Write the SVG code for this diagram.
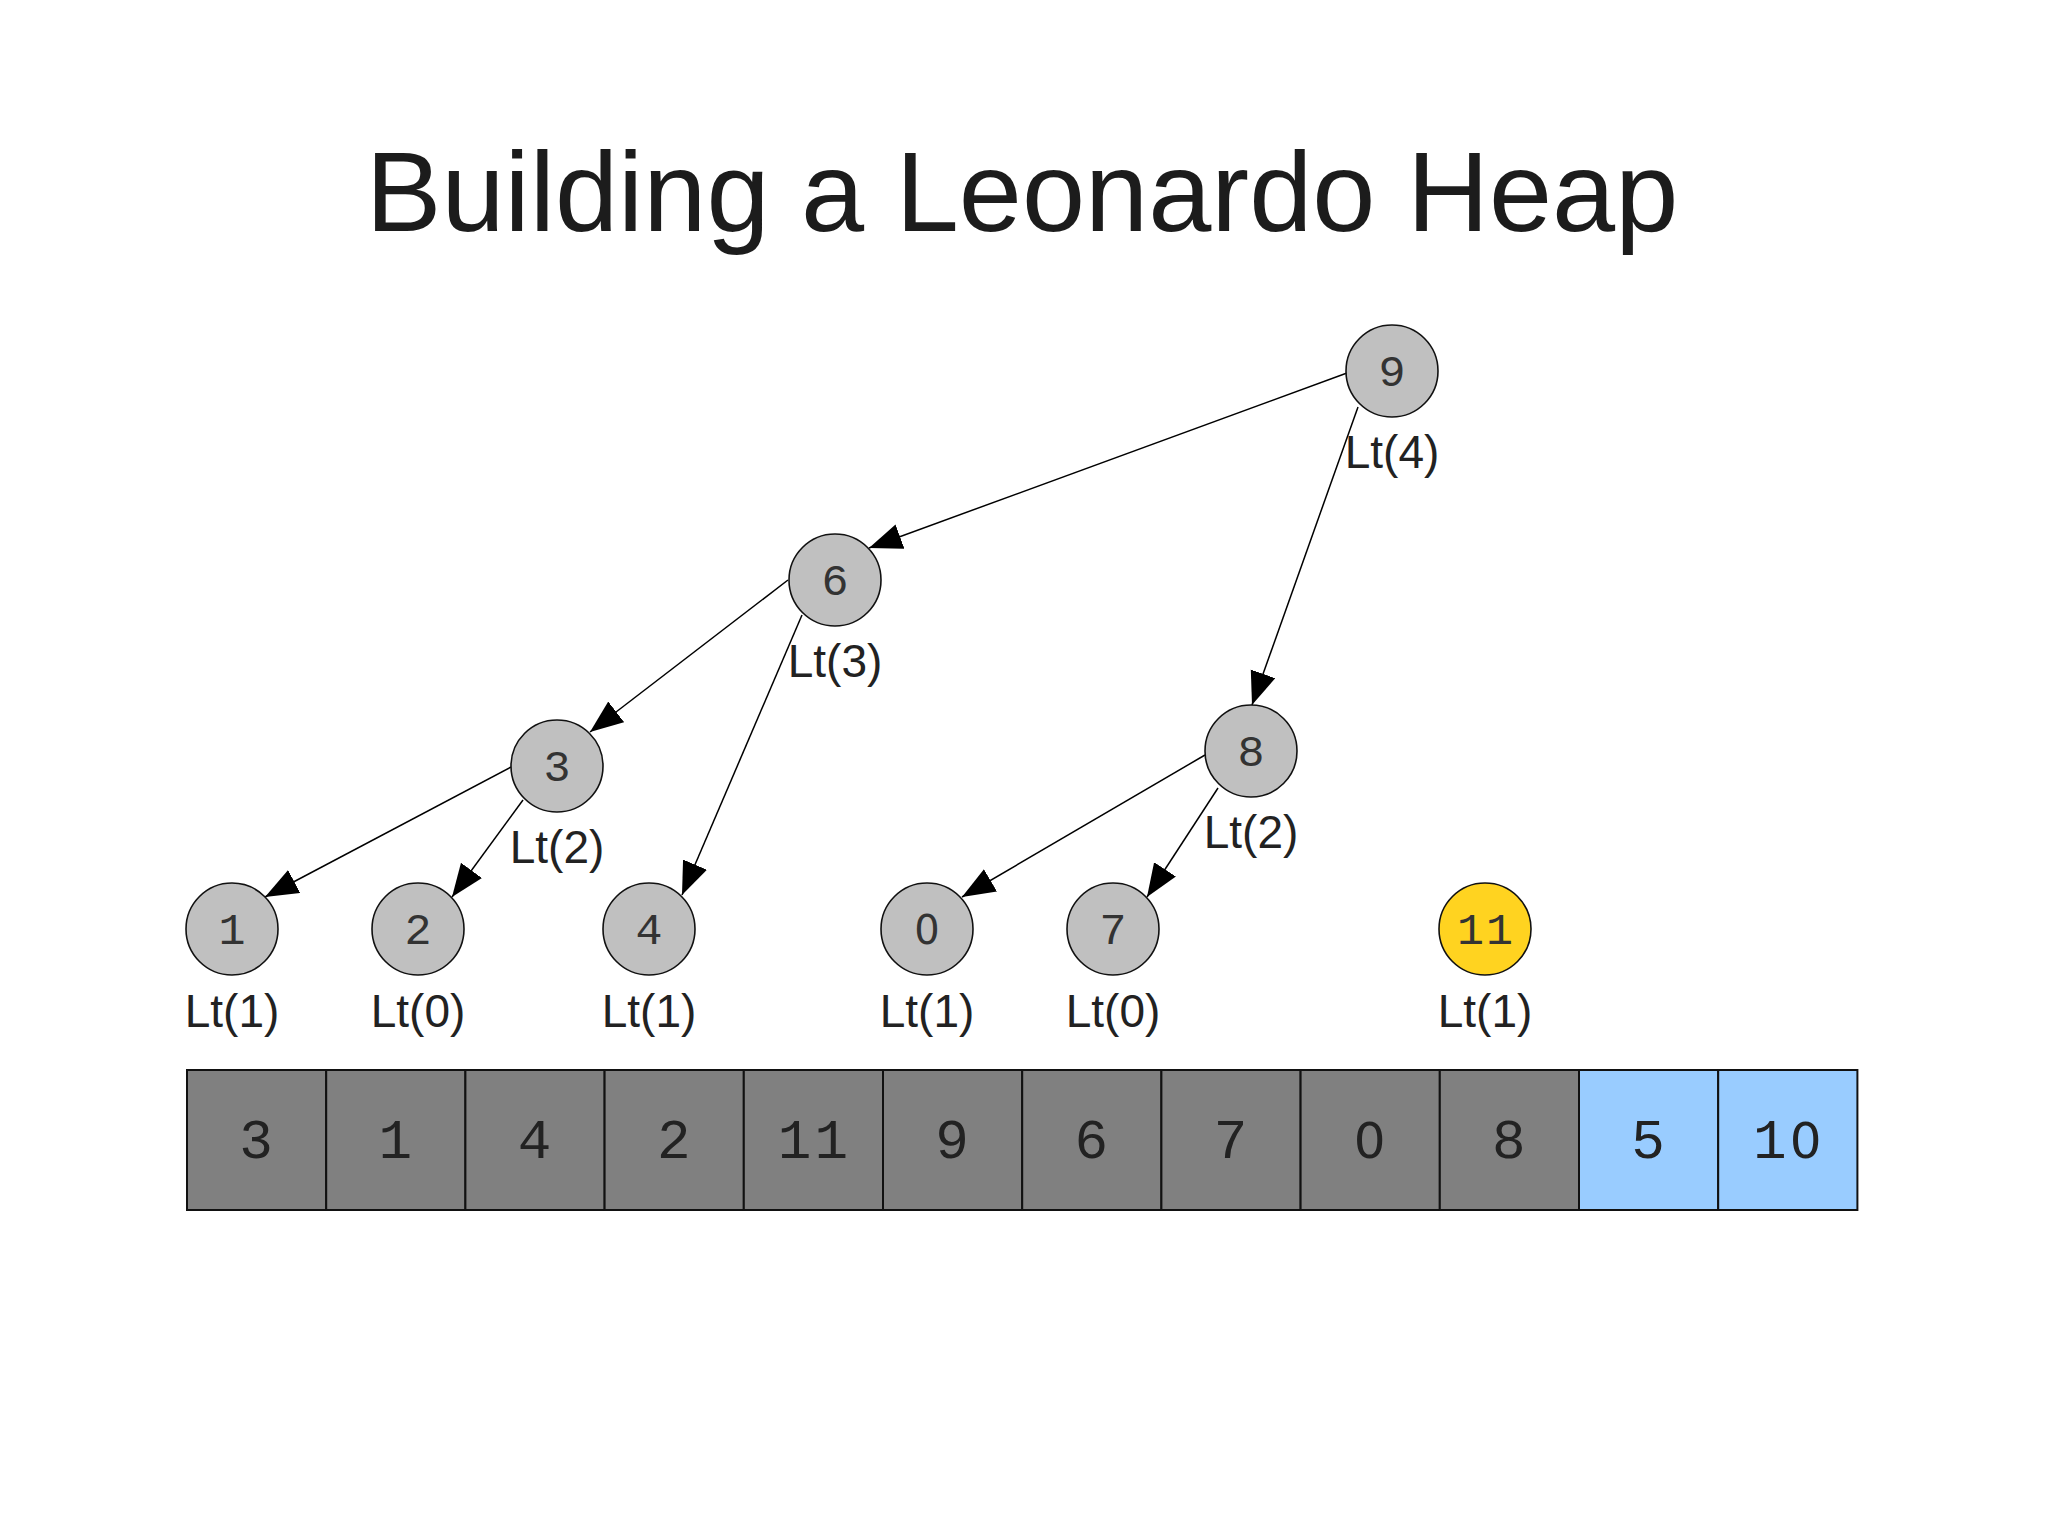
<svg xmlns="http://www.w3.org/2000/svg" width="2048" height="1536" viewBox="0 0 2048 1536">
<style>
.title{font-family:"Liberation Sans",Arial,sans-serif;font-size:113.5px;fill:#1c1c1c;text-anchor:middle}
.node circle{fill:#c0c0c0;stroke:#111;stroke-width:1.6}
.node.new circle{fill:#ffd320}
.num{font-family:"Liberation Mono","DejaVu Sans Mono",monospace;font-size:45px;fill:#333;text-anchor:middle;letter-spacing:2px}
.lt{font-family:"Liberation Sans",Arial,sans-serif;font-size:46px;fill:#222;text-anchor:middle}
.cell{fill:#808080;stroke:#111;stroke-width:2}
.cell.b{fill:#99ccff}
.cnum{font-family:"Liberation Mono","DejaVu Sans Mono",monospace;font-size:56px;fill:#222;text-anchor:middle;letter-spacing:3px}
.z{font-family:"DejaVu Sans",sans-serif;font-weight:normal}
.num .z{font-size:40px}
.cnum .z{font-size:50px}
.edge{stroke:#000;stroke-width:1.5;fill:none;marker-end:url(#arr)}
</style>
<defs>
<marker id="arr" markerUnits="userSpaceOnUse" markerWidth="36" markerHeight="28" refX="33" refY="13" orient="auto">
<path d="M0,0 L33,13 L0,26 Z" fill="#000"/>
</marker>
</defs>
<rect width="2048" height="1536" fill="#fff"/>
<text class="title" x="1022" y="231">Building a Leonardo Heap</text>

<g id="connectors">
<line class="edge" x1="1347" y1="373" x2="869" y2="548"/>
<line class="edge" x1="1358" y1="407" x2="1252" y2="705"/>
<line class="edge" x1="788" y1="580" x2="590" y2="732"/>
<line class="edge" x1="802" y1="615" x2="682" y2="895"/>
<line class="edge" x1="511" y1="767" x2="265" y2="897"/>
<line class="edge" x1="523" y1="800" x2="452" y2="897"/>
<line class="edge" x1="1205" y1="755" x2="962" y2="897"/>
<line class="edge" x1="1218" y1="788" x2="1147" y2="897"/>
</g>

<g id="n9" class="node"><circle cx="1392" cy="371" r="46"/><text class="num" x="1393" y="386">9</text><text class="lt" x="1392" y="468">Lt(4)</text></g>
<g id="n6" class="node"><circle cx="835" cy="580" r="46"/><text class="num" x="836" y="595">6</text><text class="lt" x="835" y="677">Lt(3)</text></g>
<g id="n3" class="node"><circle cx="557" cy="766" r="46"/><text class="num" x="558" y="781">3</text><text class="lt" x="557" y="863">Lt(2)</text></g>
<g id="n8" class="node"><circle cx="1251" cy="751" r="46"/><text class="num" x="1252" y="766">8</text><text class="lt" x="1251" y="848">Lt(2)</text></g>
<g id="n1" class="node"><circle cx="232" cy="929" r="46"/><text class="num" x="233" y="944">1</text><text class="lt" x="232" y="1027">Lt(1)</text></g>
<g id="n2" class="node"><circle cx="418" cy="929" r="46"/><text class="num" x="419" y="944">2</text><text class="lt" x="418" y="1027">Lt(0)</text></g>
<g id="n4" class="node"><circle cx="649" cy="929" r="46"/><text class="num" x="650" y="944">4</text><text class="lt" x="649" y="1027">Lt(1)</text></g>
<g id="n0" class="node"><circle cx="927" cy="929" r="46"/><text class="num" x="928" y="944"><tspan class="z">0</tspan></text><text class="lt" x="927" y="1027">Lt(1)</text></g>
<g id="n7" class="node"><circle cx="1113" cy="929" r="46"/><text class="num" x="1114" y="944">7</text><text class="lt" x="1113" y="1027">Lt(0)</text></g>
<g id="n11" class="node new"><circle cx="1485" cy="929" r="46"/><text class="num" x="1486" y="944">11</text><text class="lt" x="1485" y="1027">Lt(1)</text></g>

<g id="array">
<rect class="cell" x="187" y="1070" width="139.2" height="140"/>
<rect class="cell" x="326.2" y="1070" width="139.2" height="140"/>
<rect class="cell" x="465.4" y="1070" width="139.2" height="140"/>
<rect class="cell" x="604.6" y="1070" width="139.2" height="140"/>
<rect class="cell" x="743.8" y="1070" width="139.2" height="140"/>
<rect class="cell" x="883" y="1070" width="139.2" height="140"/>
<rect class="cell" x="1022.2" y="1070" width="139.2" height="140"/>
<rect class="cell" x="1161.4" y="1070" width="139.2" height="140"/>
<rect class="cell" x="1300.6" y="1070" width="139.2" height="140"/>
<rect class="cell" x="1439.8" y="1070" width="139.2" height="140"/>
<rect class="cell b" x="1579" y="1070" width="139.2" height="140"/>
<rect class="cell b" x="1718.2" y="1070" width="139.2" height="140"/>
<text class="cnum" x="257.6" y="1158">3</text>
<text class="cnum" x="396.8" y="1158">1</text>
<text class="cnum" x="536" y="1158">4</text>
<text class="cnum" x="675.2" y="1158">2</text>
<text class="cnum" x="814.4" y="1158">11</text>
<text class="cnum" x="953.6" y="1158">9</text>
<text class="cnum" x="1092.8" y="1158">6</text>
<text class="cnum" x="1232" y="1158">7</text>
<text class="cnum" x="1371.2" y="1158"><tspan class="z">0</tspan></text>
<text class="cnum" x="1510.4" y="1158">8</text>
<text class="cnum" x="1649.6" y="1158">5</text>
<text class="cnum" x="1788.8" y="1158">1<tspan class="z">0</tspan></text>
</g>
</svg>
